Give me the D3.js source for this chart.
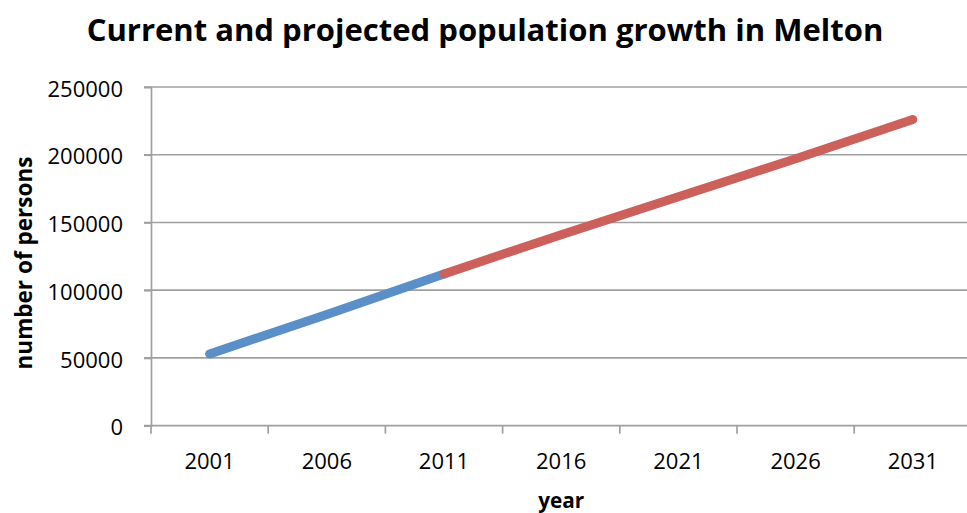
<!DOCTYPE html>
<html>
<head>
<meta charset="utf-8">
<script src="https://cdn.jsdelivr.net/npm/d3@7"></script>
<style>
  html, body { margin: 0; padding: 0; background: #fff; overflow: hidden; }
  svg { display: block; }
</style>
</head>
<body>
<div id="chart"></div>
<script>
// data
const years = ["2001", "2006", "2011", "2016", "2021", "2026", "2031"];
const currentPop = [53000, 82000, 112000, null, null, null, null];
const projectedPop = [null, null, 112000, 141000, 169000, 197000, 226000];
const yTicks = [0, 50000, 100000, 150000, 200000, 250000];

const titleText = "Current and projected population growth in Melton";
const xTitle = "year";
const yTitle = "number of persons";

const width = 967, height = 513;
const font = "'Open Sans', 'Liberation Sans', sans-serif";

const svg = d3.select("#chart").append("svg")
  .attr("width", width)
  .attr("height", height);

const plotLeft = 151, plotRight = 971.4;
const plotTop = 87, plotBottom = 425.7;

const x = d3.scaleBand()
  .domain(years)
  .range([plotLeft, plotRight])
  .paddingInner(0).paddingOuter(0);

const y = d3.scaleLinear()
  .domain([0, 250000])
  .range([plotBottom, plotTop]);

// fit a text element to a target width by adjusting font size
function fitText(sel, targetW) {
  const w = sel.node().getComputedTextLength();
  const s = parseFloat(sel.attr("font-size"));
  sel.attr("font-size", (s * targetW / w).toFixed(2));
}

// gridlines
const gridColor = "#a0a0a0";
svg.append("g")
  .attr("class", "grid")
  .selectAll("line")
  .data(yTicks.filter(d => d > 0))
  .enter().append("line")
  .attr("x1", plotLeft - 7)
  .attr("x2", plotRight)
  .attr("y1", d => y(d))
  .attr("y2", d => y(d))
  .attr("stroke", gridColor)
  .attr("stroke-width", 1.7);

// y axis
const yAxis = svg.append("g")
  .attr("transform", `translate(${plotLeft},0)`)
  .call(d3.axisLeft(y).tickValues(yTicks).tickSize(7).tickPadding(21).tickFormat(d3.format("d")));
yAxis.select(".domain").attr("stroke", gridColor).attr("stroke-width", 1.7);
yAxis.selectAll(".tick line").attr("stroke", gridColor).attr("stroke-width", 1.7);
yAxis.selectAll(".tick text")
  .attr("font-family", font)
  .attr("font-size", 22)
  .attr("fill", "#000")
  .attr("dy", "0.42em");

// x axis: labels at band centres, ticks at band edges
const xAxis = svg.append("g")
  .attr("transform", `translate(0,${plotBottom})`)
  .call(d3.axisBottom(x).tickSize(0).tickPadding(28));
xAxis.select(".domain").remove();
xAxis.selectAll(".tick text")
  .attr("font-family", font)
  .attr("font-size", 22)
  .attr("fill", "#000");

const edges = years.map(d => x(d)).concat([x.range()[1]]);
svg.append("line")
  .attr("x1", plotLeft - 7).attr("x2", plotRight)
  .attr("y1", plotBottom).attr("y2", plotBottom)
  .attr("stroke", gridColor).attr("stroke-width", 1.7);
svg.append("g").selectAll("line")
  .data(edges)
  .enter().append("line")
  .attr("x1", d => d).attr("x2", d => d)
  .attr("y1", plotBottom).attr("y2", plotBottom + 8)
  .attr("stroke", gridColor).attr("stroke-width", 1.7);

// lines
const line = d3.line()
  .defined(d => d.v != null)
  .x(d => x(d.year) + x.bandwidth() / 2)
  .y(d => y(d.v));

const series = [
  { name: "current", color: "#5b8fc8", values: currentPop },
  { name: "projected", color: "#cb615a", values: projectedPop }
];

svg.append("g").selectAll("path")
  .data(series)
  .enter().append("path")
  .attr("d", s => line(years.map((yr, i) => ({ year: yr, v: s.values[i] }))))
  .attr("fill", "none")
  .attr("stroke", s => s.color)
  .attr("stroke-width", 9)
  .attr("stroke-linecap", "round")
  .attr("stroke-linejoin", "round");

// title
const title = svg.append("text")
  .attr("x", 485)
  .attr("y", 40.5)
  .attr("text-anchor", "middle")
  .attr("font-family", font)
  .attr("font-weight", "bold")
  .attr("font-size", 30)
  .attr("fill", "#000")
  .text(titleText);
fitText(title, 797);

// axis titles
const xt = svg.append("text")
  .attr("x", (plotLeft + plotRight) / 2)
  .attr("y", 508)
  .attr("text-anchor", "middle")
  .attr("font-family", font)
  .attr("font-weight", "bold")
  .attr("font-size", 20)
  .attr("fill", "#000")
  .text(xTitle);
fitText(xt, 46);

const yt = svg.append("text")
  .attr("transform", "translate(31.5,263) rotate(-90)")
  .attr("text-anchor", "middle")
  .attr("font-family", font)
  .attr("font-weight", "bold")
  .attr("font-size", 20)
  .attr("fill", "#000")
  .text(yTitle);
fitText(yt, 213);
</script>
</body>
</html>
